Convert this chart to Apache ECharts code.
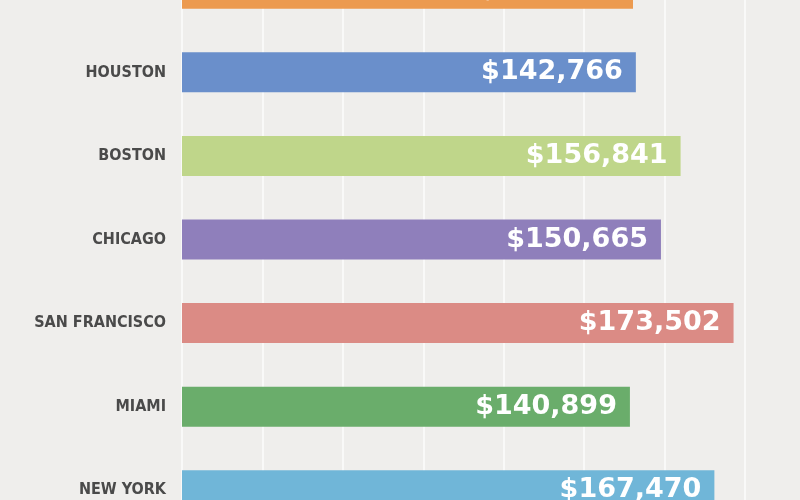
<!DOCTYPE html>
<html>
<head>
<meta charset="utf-8">
<script src="https://cdn.jsdelivr.net/npm/echarts@6/dist/echarts.min.js"></script>
<style>
html,body{margin:0;padding:0;background:#efeeec;overflow:hidden;width:800px;height:500px;position:relative;}
#chart{position:absolute;left:0;top:-53px;width:800px;height:600px;}
</style>
</head>
<body>
<div id="chart"></div>
<script>
var cities = ["LOS ANGELES", "HOUSTON", "BOSTON", "CHICAGO", "SAN FRANCISCO", "MIAMI", "NEW YORK"];
var salaries = [141868, 142766, 156841, 150665, 173502, 140899, 167470];
var barColors = ["#ec9a4f", "#6a8fcb", "#bfd68a", "#8f7fbb", "#db8b85", "#6aad6b", "#70b6d8"];

var chart = echarts.init(document.getElementById('chart'));
chart.setOption({
  backgroundColor: '#efeeec',
  animation: false,
  grid: { left: 182, width: 563, top: 0, height: 585, containLabel: false },
  xAxis: {
    type: 'value', min: 0, max: 177100, interval: 25300,
    axisLabel: { show: false }, axisLine: { show: false }, axisTick: { show: false },
    splitLine: { show: true, lineStyle: { color: '#f9f9f8', width: 2 } }
  },
  yAxis: {
    type: 'category', data: cities, inverse: true,
    axisLine: { show: false }, axisTick: { show: false },
    axisLabel: { margin: 16, color: '#4a4a4a', fontSize: 16, fontWeight: 'bold',
      fontFamily: '"Liberation Sans Narrow", "DejaVu Sans Condensed", sans-serif' }
  },
  series: [{
    type: 'bar', barWidth: 40,
    data: salaries.map(function (v, i) { return { value: v, itemStyle: { color: barColors[i] } }; }),
    label: {
      show: true, position: 'insideRight', distance: 13, color: '#ffffff',
      fontSize: 27, fontWeight: 'bold', fontFamily: '"DejaVu Sans", sans-serif',
      formatter: function (p) { return '$' + p.value.toLocaleString('en-US'); }
    }
  }]
});
</script>
</body>
</html>
